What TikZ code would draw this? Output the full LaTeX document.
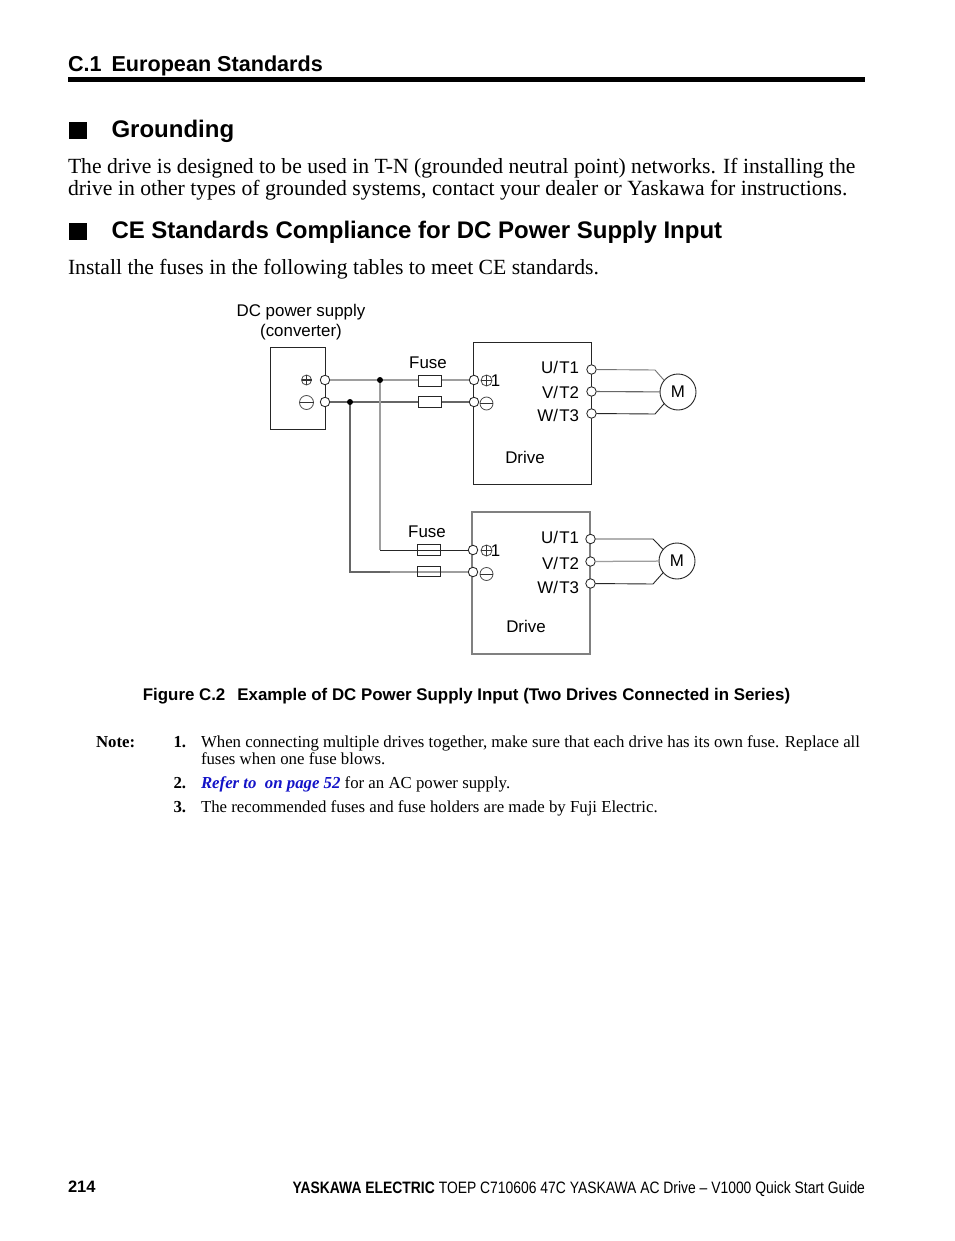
\documentclass[tikz,border=0pt]{standalone}
\usepackage{fontspec}
\setmainfont{Liberation Serif}
\setsansfont{Liberation Sans}
\definecolor{wireg}{gray}{0.62}
\definecolor{wired}{gray}{0.4}
\definecolor{linkblue}{RGB}{20,20,200}
\newcommand{\fsz}[1]{\fontsize{#1}{#1}\selectfont}
\newcommand{\tsl}{/\kern1.2pt}
\tikzset{
  x=1pt,y=-1pt,
  txt/.style={inner sep=0pt,outer sep=0pt,anchor=base west},
  txtr/.style={inner sep=0pt,outer sep=0pt,anchor=base east},
  txtc/.style={inner sep=0pt,outer sep=0pt,anchor=base},
  head/.style={txt,font=\sffamily\bfseries\fsz{24}},
  body/.style={txt,font=\rmfamily\fsz{21.65}},
  note/.style={txt,font=\rmfamily\fsz{16.8}},
  noteb/.style={txt,font=\rmfamily\bfseries\fsz{16.8}},
  lab/.style={txtc,font=\sffamily\fsz{16.9}},
  labr/.style={txtr,font=\sffamily\fsz{16.9}},
  box/.style={draw=black!85,line width=.95pt,inner sep=0pt,outer sep=0pt},
  term/.style={circle,draw=black!85,line width=.85pt,fill=white,minimum size=9.5pt,inner sep=0pt,outer sep=0pt},
  fuse/.style={rectangle,draw=black!85,line width=.95pt,fill=white,minimum width=23pt,minimum height=10.5pt,inner sep=0pt,outer sep=0pt},
  dot/.style={circle,fill=black,minimum size=6pt,inner sep=0pt,outer sep=0pt},
  motor/.style={circle,draw=black!85,line width=.9pt,fill=white,minimum size=36pt,inner sep=0pt,outer sep=0pt,font=\sffamily\fsz{16.9}},
  sym/.style={circle,draw=black!70,line width=.8pt,inner sep=0pt,outer sep=0pt},
  wg/.style={draw=wireg,line width=1.25pt},
  wd/.style={draw=wired,line width=1.1pt},
  wk/.style={draw=black!85,line width=.9pt},
}
\newcommand{\plussym}[4]{\node[sym,minimum size=#3pt] (#4) at (#1,#2) {};
  \draw[black!80,line width=1.1pt] (#4.west)--(#4.east) (#4.north)--(#4.south);}
\newcommand{\minussym}[4]{\node[sym,minimum size=#3pt] (#4) at (#1,#2) {};
  \draw[black!80,line width=1pt] (#4.west)--(#4.east);}
\begin{document}
\begin{tikzpicture}
\useasboundingbox (0,0) rectangle (954,1241);
\fill[white] (0,0) rectangle (954,1241);

% page text
\node[txt,font=\sffamily\bfseries\fsz{21.6}] (h0) at (68,72) {C.1\hspace{10pt}European Standards};
\fill[black] (68,77.5) rectangle (865,82);
\node[rectangle,fill=black,minimum width=18pt,minimum height=17pt,inner sep=0pt] (sq1) at (78,130.5) {};
\node[head] (h1) at (111.5,138) {Grounding};
\node[body] (b1) at (68,174) {The drive is designed to be used in T-N (grounded neutral point) networks. If installing the};
\node[body,font=\rmfamily\fsz{21.7}] (b2) at (68,196) {drive in other types of grounded systems, contact your dealer or Yaskawa for instructions.};
\node[rectangle,fill=black,minimum width=18pt,minimum height=17pt,inner sep=0pt] (sq2) at (78,232) {};
\node[head] (h2) at (111.5,239) {CE Standards Compliance for DC Power Supply Input};
\node[body] (b3) at (68,274) {Install the fuses in the following tables to meet CE standards.};

% boxes
\draw[box] (270,347.5) rectangle (325,429.5);
\draw[box] (473,342.5) rectangle (591,484.5);
\draw[draw=black!50,line width=1.1pt] (472,512) rectangle (590,654);

% labels
\node[lab] (l1) at (301,316) {DC power supply};
\node[lab] (l2) at (301,336) {(converter)};
\node[lab] (f1) at (428,368) {Fuse};
\node[lab] (f2) at (427,537) {Fuse};
\node[lab] (d1) at (525,463) {Drive};
\node[lab] (d2) at (526,632) {Drive};
\node[labr] (u1) at (579,373) {U\tsl T1};
\node[labr] (v1) at (579,398) {V\tsl T2};
\node[labr] (w1) at (579,421) {W\tsl T3};
\node[labr] (u2) at (579,543) {U\tsl T1};
\node[labr] (v2) at (579,569) {V\tsl T2};
\node[labr] (w2) at (579,593) {W\tsl T3};
\node[lab] (o1) at (495.5,386) {1};
\node[lab] (o2) at (495.5,556) {1};

% terminals
\node[term] (cp) at (325,380) {};
\node[term] (cm) at (325,402) {};
\node[term] (ap) at (474,380) {};
\node[term] (am) at (474,402) {};
\node[term] (bp) at (473,550) {};
\node[term] (bm) at (473,572) {};
\node[term] (u1t) at (591.5,369.5) {};
\node[term] (v1t) at (591.5,391.5) {};
\node[term] (w1t) at (591.5,413.5) {};
\node[term] (u2t) at (590.5,539) {};
\node[term] (v2t) at (590.5,561.5) {};
\node[term] (w2t) at (590.5,583.5) {};

% motors
\node[motor] (m1) at (678,392) {M};
\node[motor] (m2) at (677,561) {M};

% symbols
\plussym{306.5}{380}{10}{s1}
\minussym{306.5}{402.5}{14}{s2}
\plussym{486.5}{380.5}{11}{s3}
\minussym{486.5}{403.5}{13}{s4}
\plussym{486.5}{550.5}{11}{s5}
\minussym{486.5}{574}{13}{s6}

% fuses and junctions
\coordinate (ja) at (380,380);
\coordinate (jb) at (350,402);
\coordinate (ca) at (380,550);
\coordinate (cb) at (350,572);
\coordinate (cc) at (390,572);
\coordinate (u1a) at (655,370);
\coordinate (w1a) at (655,414);
\coordinate (u2a) at (653,539);
\coordinate (w2a) at (653,584);

\draw[wg] (cp) -- (ja) -- (ap);
\draw[wd] (cm) -- (jb) -- (am);
\draw[wg] (ja) -- (ca);
\draw[wk] (ca) -- (bp);
\draw[wd] (jb) -- (cb) -- (cc);
\draw[wg] (cc) -- (bm);
\node[fuse] (fa) at (429.5,381) {};
\node[fuse] (fb) at (429.5,402) {};
\node[fuse,fill=none] (fc) at (428.5,550) {};
\node[fuse,fill=none] (fd) at (428.5,571.5) {};
\node[dot] (da) at (ja) {};
\node[dot] (db) at (jb) {};

% motor wires
\draw[draw=black!55,line width=.9pt] (u1t) -- (u1a) -- (m1.140);
\draw[wd] (v1t) -- (m1);
\draw[wk] (w1t) -- (w1a) -- (m1.220);
\draw[wk] (u2t) -- (u2a) -- (m2.140);
\draw[wg] (v2t) -- (m2);
\draw[wk] (w2t) -- (w2a) -- (m2.220);

% caption
\node[txtc,font=\sffamily\bfseries\fsz{16.87}] (cap) at (466.5,700) {Figure C.2\hspace{12pt}Example of DC Power Supply Input (Two Drives Connected in Series)};

% note
\node[noteb] (nt) at (96,747) {Note:};
\node[noteb] (n1) at (173.5,747) {1.};
\node[note] (n1a) at (201,747) {When connecting multiple drives together, make sure that each drive has its own fuse. Replace all};
\node[note] (n1b) at (201,764) {fuses when one fuse blows.};
\node[noteb] (n2) at (173.5,788) {2.};
\node[note] (n2a) at (201,788) {\textcolor{linkblue}{\bfseries\itshape Refer to\ \ on page 52} for an AC power supply.};
\node[noteb] (n3) at (173.5,812) {3.};
\node[note] (n3a) at (201,812) {The recommended fuses and fuse holders are made by Fuji Electric.};

% footer
\node[txt,font=\sffamily\bfseries\fsz{16.5}] (pg) at (68,1192) {214};
\node[txtr,font=\sffamily\fsz{16.5}] (ft) at (865,1193) {\scalebox{.842}[1]{\textbf{YASKAWA ELECTRIC} TOEP C710606 47C YASKAWA AC Drive -- V1000 Quick Start Guide}};
\end{tikzpicture}
\end{document}
